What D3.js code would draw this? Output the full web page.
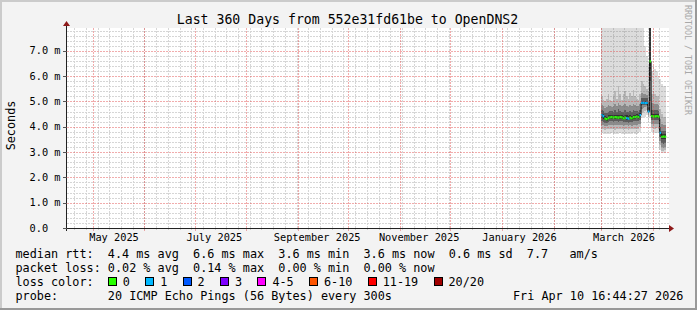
<!DOCTYPE html>
<html><head><meta charset="utf-8">
<script src="https://cdn.jsdelivr.net/npm/d3@7"></script>
<style>
html,body{margin:0;padding:0;background:#f3f3f3;}
svg{display:block}
text{font-family:"DejaVu Sans Mono",monospace;white-space:pre;}
</style></head><body>
<svg id="c" width="697" height="310" xml:space="preserve"></svg>
<script>
// ---------------- data ----------------
const title = "Last 360 Days from 552e31fd61be to OpenDNS2";
const timeStart = "2025-04-15T16:44:27Z";
const timeEnd = "2026-04-10T16:44:27Z";
const yAxisMax = 7.9;               // ms, top of plot
const yTickValues = [0, 1, 2, 3, 4, 5, 6, 7];
const xLabelTimes = ["2025-05-13T12:00:00Z", "2025-07-12T12:00:00Z", "2025-09-12T00:00:00Z",
                     "2025-11-12T00:00:00Z", "2026-01-11T00:00:00Z", "2026-03-14T12:00:00Z"];

const days = ["2026-03-01","2026-03-02","2026-03-03","2026-03-04","2026-03-05","2026-03-06","2026-03-07",
  "2026-03-08","2026-03-09","2026-03-10","2026-03-11","2026-03-12","2026-03-13","2026-03-14","2026-03-15",
  "2026-03-16","2026-03-17","2026-03-18","2026-03-19","2026-03-20","2026-03-21","2026-03-22","2026-03-23",
  "2026-03-24","2026-03-25","2026-03-26","2026-03-27","2026-03-28","2026-03-29","2026-03-30","2026-03-31",
  "2026-04-01","2026-04-02","2026-04-03","2026-04-04","2026-04-05","2026-04-06","2026-04-07","2026-04-08"];

// median rtt (ms)
const median = [4.45,4.42,4.32,4.30,4.35,4.37,4.38,4.36,4.38,4.37,4.36,4.38,4.37,4.33,4.36,4.34,4.32,4.36,4.33,4.38,4.38,4.40,4.38,
  4.46,4.95,4.95,4.94,4.95,4.60,6.58,4.42,4.40,4.41,4.42,4.40,3.76,3.60,3.61,3.60];
// loss colour class (index into lossLabels)
const lossClass = [1,1,0,0,0,0,0,0,0,0,0,0,0,0,0,1,1,0,0,0,0,0,0,
  1,1,1,1,1,1,0,0,0,0,0,0,1,0,0,0];

// smoke bands (ms): outermost (1) to innermost (5)
const band1Lo = [3.74,3.72,3.70,3.72,3.73,3.72,3.75,3.72,3.70,3.73,3.72,3.74,3.72,3.71,3.73,3.72,3.70,3.73,3.72,3.74,3.72,3.73,3.75,
  3.80,4.35,4.38,4.40,4.45,4.20,4.40,3.78,3.76,3.75,3.77,3.74,3.10,2.97,2.96,2.98];
const band1Hi = [8.5,8.5,8.5,8.5,8.5,8.5,8.5,8.5,8.5,8.5,8.5,8.5,8.5,8.5,8.5,8.5,8.5,8.5,8.5,8.5,8.5,8.5,8.5,
  8.5,8.5,8.5,7.2,6.8,6.4,8.5,6.2,6.4,6.3,6.2,6.0,5.9,5.7,5.6,5.6];
const band2Lo = [3.92,3.90,3.88,3.90,3.92,3.91,3.93,3.90,3.89,3.91,3.90,3.92,3.90,3.89,3.91,3.90,3.88,3.91,3.90,3.92,3.91,3.92,3.93,
  3.98,4.55,4.58,4.62,4.65,4.38,4.60,3.95,3.94,3.93,3.95,3.92,3.28,3.06,3.05,3.07];
const band2Hi = [5.20,5.05,5.00,5.10,5.30,5.05,5.00,5.20,5.40,5.10,5.60,5.30,5.05,5.30,5.40,5.20,5.10,5.35,5.20,5.45,5.20,5.10,5.05,
  5.30,5.80,5.70,5.60,5.50,5.40,8.5,5.30,5.40,5.30,5.20,5.20,4.70,4.50,4.40,4.40];
const band3Lo = [4.08,4.06,4.02,4.03,4.06,4.07,4.08,4.06,4.05,4.07,4.06,4.08,4.06,4.04,4.06,4.05,4.03,4.06,4.04,4.08,4.07,4.08,4.09,
  4.12,4.72,4.75,4.78,4.80,4.48,5.00,4.12,4.10,4.10,4.12,4.09,3.45,3.18,3.17,3.19];
const band3Hi = [4.85,4.80,4.75,4.78,4.85,4.80,4.78,4.82,4.90,4.80,4.95,4.85,4.80,4.85,4.90,4.82,4.78,4.85,4.80,4.90,4.85,4.82,4.80,
  4.90,5.35,5.30,5.30,5.25,5.00,8.5,4.95,4.90,4.90,4.88,4.85,4.30,4.10,4.05,4.05];
const band4Lo = [4.22,4.20,4.15,4.15,4.20,4.22,4.23,4.20,4.21,4.22,4.20,4.22,4.21,4.18,4.20,4.19,4.16,4.20,4.18,4.22,4.22,4.23,4.22,
  4.28,4.84,4.85,4.86,4.87,4.54,5.80,4.28,4.26,4.27,4.28,4.26,3.60,3.34,3.33,3.35];
const band4Hi = [4.65,4.62,4.55,4.55,4.60,4.62,4.62,4.60,4.65,4.60,4.70,4.63,4.60,4.60,4.65,4.60,4.58,4.62,4.60,4.65,4.63,4.63,4.60,
  4.68,5.15,5.12,5.12,5.12,4.78,8.5,4.68,4.66,4.66,4.66,4.64,4.00,3.85,3.85,3.84];
const band5Lo = [4.34,4.32,4.25,4.24,4.29,4.31,4.32,4.30,4.32,4.31,4.30,4.32,4.31,4.27,4.30,4.28,4.26,4.30,4.27,4.32,4.32,4.34,4.32,
  4.38,4.90,4.90,4.90,4.90,4.57,6.30,4.36,4.34,4.35,4.36,4.34,3.70,3.50,3.50,3.50];
const band5Hi = [4.52,4.50,4.42,4.40,4.45,4.47,4.48,4.46,4.48,4.47,4.47,4.48,4.47,4.43,4.46,4.45,4.42,4.46,4.43,4.48,4.48,4.50,4.48,
  4.56,5.02,5.02,5.00,5.02,4.68,8.5,4.52,4.50,4.51,4.52,4.50,3.85,3.70,3.71,3.70];

// legend
const rttStats = ["4.4", "6.6", "3.6", "3.6", "0.6", "7.7"];
const lossStats = ["0.02", "0.14", "0.00", "0.00"];
const lossLabels = ["0", "1", "2", "3", "4-5", "6-10", "11-19", "20/20"];
const lossColors = ["#26ff00", "#00b8ff", "#0059ff", "#7e00ff", "#ff00ff", "#ff5500", "#ff0000", "#a00000"];
const probeText = "20 ICMP Echo Pings (56 Bytes) every 300s";
const dateText = "Fri Apr 10 16:44:27 2026";
const watermark = "RRDTOOL / TOBI OETIKER";

// ---------------- drawing ----------------
const W = 697, H = 310;
const PL = 67, PR = 669, PT = 28, PB = 228;
const svg = d3.select("#c");

const x = d3.scaleUtc().domain([new Date(timeStart), new Date(timeEnd)]).range([PL, PR]);
const y = d3.scaleLinear().domain([0, yAxisMax]).range([PB, PT]);

const minorCol = "rgba(120,120,120,0.3)", majorCol = "rgba(224,70,70,0.45)";

svg.append("rect").attr("width", W).attr("height", H).attr("fill", "#f3f3f3");
// 3d frame
svg.append("rect").attr("x", 0).attr("y", 0).attr("width", W).attr("height", 2).attr("fill", "#cbcbcb");
svg.append("rect").attr("x", 0).attr("y", 0).attr("width", 2).attr("height", H).attr("fill", "#cbcbcb");
svg.append("rect").attr("x", 0).attr("y", H - 2).attr("width", W).attr("height", 2).attr("fill", "#999");
svg.append("rect").attr("x", W - 2).attr("y", 0).attr("width", 2).attr("height", H).attr("fill", "#999");

svg.append("rect").attr("x", PL).attr("y", PT).attr("width", PR - PL).attr("height", PB - PT).attr("fill", "#fff");

svg.append("clipPath").attr("id", "clip").append("rect")
  .attr("x", PL).attr("y", PT).attr("width", PR - PL).attr("height", PB - PT);

// data table
const parseDay = d3.utcParse("%Y-%m-%d");
const bandsLo = [band1Lo, band2Lo, band3Lo, band4Lo, band5Lo];
const bandsHi = [band1Hi, band2Hi, band3Hi, band4Hi, band5Hi];
const rows = days.map((d, i) => ({
  t: parseDay(d), t2: d3.utcDay.offset(parseDay(d), 1),
  med: median[i], loss: lossClass[i],
  lo: bandsLo.map(a => a[i]), hi: bandsHi.map(a => a[i])
}));
const stepRows = rows.concat([{...rows[rows.length - 1], t: rows[rows.length - 1].t2}]);

const gData = svg.append("g").attr("clip-path", "url(#clip)");
const bandColors = ["#dcdcdc", "#b8b8b8", "#8c8c8c", "#5c5c5c", "#333333"];
bandColors.forEach((c, k) => {
  const area = d3.area().curve(d3.curveStepAfter)
    .x(d => x(d.t)).y0(d => y(d.lo[k])).y1(d => y(d.hi[k]));
  gData.append("path").datum(stepRows).attr("d", area).attr("fill", c)
    .attr("shape-rendering", "crispEdges");
});

// dashed grid (2 px on, 1 px off) drawn as pixel-aligned rectangles, on top of the smoke
const minorY = d3.range(1, Math.round(yAxisMax * 5) + 1).map(i => i / 5).filter(v => Math.abs(v - Math.round(v)) > 1e-6);
const weeks = d3.utcSunday.range(x.domain()[0], x.domain()[1]);
const months = d3.utcMonth.range(x.domain()[0], x.domain()[1]);
function hDash(yy) {
  let s = "";
  for (let xx = PL; xx < PR; xx += 3) s += `M${xx},${yy}h${Math.min(2, PR - xx)}v1h-${Math.min(2, PR - xx)}z`;
  return s;
}
function vDash(xx) {
  let s = "";
  for (let yy = PT; yy < PB; yy += 3) s += `M${xx},${yy}h1v${Math.min(2, PB - yy)}h-1z`;
  return s;
}
const minorPath = minorY.map(v => hDash(Math.round(y(v)))).join("") + weeks.map(t => vDash(Math.round(x(t)))).join("");
const majorPath = yTickValues.filter(v => v > 0).map(v => hDash(Math.round(y(v)))).join("") +
  months.map(t => vDash(Math.round(x(t)))).join("");
svg.append("path").attr("d", minorPath).attr("fill", minorCol).attr("shape-rendering", "crispEdges");
svg.append("path").attr("d", majorPath).attr("fill", majorCol).attr("shape-rendering", "crispEdges");

// median transitions (dark) and coloured median marks
const medLine = d3.line().curve(d3.curveStepAfter).x(d => x(d.t)).y(d => y(d.med));
gData.append("path").datum(stepRows).attr("d", medLine).attr("fill", "none")
  .attr("stroke", "#111").attr("stroke-width", 1);
gData.selectAll("line.med").data(rows).enter().append("line").attr("class", "med")
  .attr("x1", d => x(d.t)).attr("x2", d => x(d.t2))
  .attr("y1", d => y(d.med)).attr("y2", d => y(d.med))
  .attr("stroke", d => lossColors[d.loss]).attr("stroke-width", 2.4);

// axes
const axisCol = "#222", arrowCol = "#8e1a1a";
svg.append("line").attr("x1", PL - 4).attr("x2", PR + 1).attr("y1", PB + 0.5).attr("y2", PB + 0.5).attr("stroke", axisCol);
svg.append("line").attr("x1", PL - 0.5).attr("x2", PL - 0.5).attr("y1", PB + 3).attr("y2", PT - 3).attr("stroke", axisCol);
svg.append("path").attr("d", `M${PR + 5},${PB + 0.5} L${PR},${PB - 3} L${PR},${PB + 4} Z`).attr("fill", arrowCol);
svg.append("path").attr("d", `M${PL - 0.5},${PT - 7} L${PL - 4},${PT - 2} L${PL + 3},${PT - 2} Z`).attr("fill", arrowCol);

// y ticks + labels
const fmtY = v => v === 0 ? "0.0" : d3.format(".1f")(v) + " m";
yTickValues.forEach(v => {
  const yy = Math.round(y(v)) + 0.5;
  svg.append("line").attr("x1", PL - 4).attr("x2", PL).attr("y1", yy).attr("y2", yy).attr("stroke", "#555");
  svg.append("text").attr("x", 29.5).attr("y", y(v) + 3.7).attr("font-size", "10.3px").attr("fill", "#000")
    .text(fmtY(v));
});
// x ticks
months.forEach(t => {
  svg.append("rect").attr("x", Math.round(x(t))).attr("y", PB + 1).attr("width", 1).attr("height", 2).attr("fill", majorCol);
});
weeks.forEach(t => {
  svg.append("rect").attr("x", Math.round(x(t))).attr("y", PB + 1).attr("width", 1).attr("height", 1).attr("fill", minorCol);
});
const xAxis = d3.axisBottom(x).tickValues(xLabelTimes.map(s => new Date(s)))
  .tickFormat(d3.utcFormat("%B %Y")).tickSize(0).tickPadding(0);
const gx = svg.append("g").attr("transform", `translate(0,${PB})`).call(xAxis);
gx.select(".domain").remove();
gx.selectAll("text").attr("font-family", '"DejaVu Sans Mono", monospace').attr("font-size", "10.3px")
  .attr("fill", "#000").attr("dy", null).attr("y", 13.3);

// title & labels
svg.append("text").attr("x", 347.5).attr("y", 23.5).attr("text-anchor", "middle")
  .attr("font-size", "13.2px").attr("fill", "#000").text(title);
svg.append("text").attr("transform", "translate(15,125.5) rotate(-90)").attr("text-anchor", "middle")
  .attr("font-size", "11.8px").attr("fill", "#000").text("Seconds");
svg.append("text").attr("transform", "translate(684.5,5) rotate(90)")
  .attr("font-size", "8.3px").attr("fill", "#a8a8a8").text(watermark);

// legend
const LX = 15.5, CW = 7.1, FS = "11.8px";
const rows4 = [257.7, 271.7, 285.7, 299.7];
const line1 = `median rtt:  ${rttStats[0]} ms avg  ${rttStats[1]} ms max  ${rttStats[2]} ms min  ${rttStats[3]} ms now  ${rttStats[4]} ms sd  ${rttStats[5]}   am/s`;
const line2 = `packet loss: ${lossStats[0]} % avg  ${lossStats[1]} % max  ${lossStats[2]} % min  ${lossStats[3]} % now`;
const line4 = `probe:       ${probeText}`;
[[line1, 0], [line2, 1], ["loss color:", 2], [line4, 3]].forEach(([s, r]) => {
  svg.append("text").attr("x", LX).attr("y", rows4[r]).attr("font-size", FS).attr("fill", "#000").text(s);
});
let bx = LX + 13 * CW;
lossLabels.forEach((lab, i) => {
  svg.append("rect").attr("x", Math.round(bx) + 0.5).attr("y", 277.5).attr("width", 8).attr("height", 8)
    .attr("fill", lossColors[i]).attr("stroke", "#000");
  const tx = bx + 15;
  svg.append("text").attr("x", tx).attr("y", rows4[2]).attr("font-size", FS).attr("fill", "#000").text(lab);
  bx = tx + lab.length * CW + 15.3;
});
svg.append("text").attr("x", 513).attr("y", rows4[3]).attr("font-size", FS).attr("fill", "#000").text(dateText);
</script>
</body></html>
